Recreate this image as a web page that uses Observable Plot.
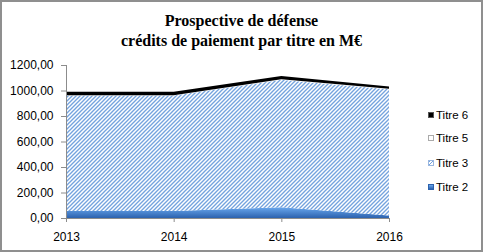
<!DOCTYPE html>
<html><head><meta charset="utf-8">
<script src="https://cdn.jsdelivr.net/npm/d3@7"></script>
<script src="https://cdn.jsdelivr.net/npm/@observablehq/plot@0.6"></script>
<style>
body{margin:0;background:#fff}
#chart{position:relative;width:483px;height:252px;background:#fff;overflow:hidden;font-family:"Liberation Sans",Arial,sans-serif}
#chart svg.plot{position:absolute;left:0;top:0}
#border{position:absolute;left:0;top:0;width:483px;height:252px;box-sizing:border-box;border:2px solid #8f8f8f;pointer-events:none}
#title{position:absolute;left:0;top:11px;width:483px;text-align:center;font-family:"Liberation Serif","Times New Roman",serif;font-weight:bold;font-size:16px;line-height:20px;color:#000}
.leg{position:absolute;left:428px;height:14px;display:flex;align-items:center;font-size:11.5px;color:#000}
.sw{width:6px;height:6px;margin-right:2px;box-sizing:border-box}
</style></head><body>
<div id="chart"><div id="title">Prospective de défense<br>crédits de paiement par titre en M€</div></div>
<script>
const years = [2013, 2014, 2015, 2016];
const series = ["Titre 2", "Titre 3", "Titre 5", "Titre 6"];
const titre2 = [55, 55, 85, 20];
const titre3 = [905, 905, 1000, 990];
const titre5 = [3, 3, 3, 3];
const titre6 = [27, 27, 25, 18];
const yTicks = [0, 200, 400, 600, 800, 1000, 1200];
const legendOrder = ["Titre 6", "Titre 5", "Titre 3", "Titre 2"];

const valuesBySeries = [titre2, titre3, titre5, titre6];
const data = years.flatMap((yr, i) => series.map((s, j) => ({year: yr, series: s, value: valuesBySeries[j][i]})));

const defs = () => {
  const d = d3.create("svg:defs");
  const p = d.append("pattern").attr("id", "hatch").attr("patternUnits", "userSpaceOnUse").attr("width", 4).attr("height", 4);
  p.append("rect").attr("width", 4).attr("height", 4).attr("fill", "#ffffff");
  p.append("path").attr("d", "M-1,1 l2,-2 M0,4 l4,-4 M3,5 l2,-2").attr("stroke", "#74a3de").attr("stroke-width", 1.35);
  const g = d.append("linearGradient").attr("id", "blue").attr("x1", 0).attr("y1", 0).attr("x2", 0).attr("y2", 1);
  g.append("stop").attr("offset", 0).attr("stop-color", "#6aa8ee");
  g.append("stop").attr("offset", 1).attr("stop-color", "#2c62ae");
  return d.node();
};

const plot = Plot.plot({
  width: 483,
  height: 252,
  marginLeft: 66,
  marginRight: 94,
  marginTop: 65,
  marginBottom: 34,
  style: {fontFamily: "'Liberation Sans', Arial, sans-serif", fontSize: "12px", color: "#000", background: "transparent"},
  x: {type: "linear", domain: [2013, 2016], ticks: years, tickFormat: d => String(d), tickSize: 4, tickPadding: 10, label: null},
  y: {domain: [0, 1200], ticks: yTicks, tickFormat: d => d.toFixed(2).replace(".", ","), tickSize: 5, tickPadding: 8, label: null},
  color: {domain: series, range: ["url(#blue)", "url(#hatch)", "#ffffff", "#000000"]},
  marks: [
    defs,
    Plot.areaY(data, {x: "year", y: "value", z: "series", fill: "series", order: series}),
    Plot.ruleX([2013], {y1: 0, y2: 1200, stroke: "#8c8c8c"}),
    Plot.ruleY([0], {stroke: "#8c8c8c"})
  ]
});
plot.classList.add("plot");
plot.querySelectorAll('[aria-label="x-axis tick"], [aria-label="y-axis tick"]').forEach(e => e.setAttribute("stroke", "#8c8c8c"));
const chart = document.getElementById("chart");
chart.appendChild(plot);

const legY = {"Titre 6": 108, "Titre 5": 131, "Titre 3": 156, "Titre 2": 180};
const swStyle = {
  "Titre 6": "background:#000;border:1px solid #555",
  "Titre 5": "background:#fff;border:1px solid #aaa",
  "Titre 3": "background:repeating-linear-gradient(135deg,#74a3de 0 1px,#fff 1px 2.5px);border:1px solid #9bb8e0",
  "Titre 2": "background:linear-gradient(#6aa8ee,#2c62ae);border:1px solid #2c62ae"
};
legendOrder.forEach(s => {
  const div = document.createElement("div");
  div.className = "leg";
  div.style.top = legY[s] + "px";
  div.innerHTML = `<span class="sw" style="${swStyle[s]}"></span><span>${s}</span>`;
  chart.appendChild(div);
});
const b = document.createElement("div");
b.id = "border";
chart.appendChild(b);
</script>
</body></html>
